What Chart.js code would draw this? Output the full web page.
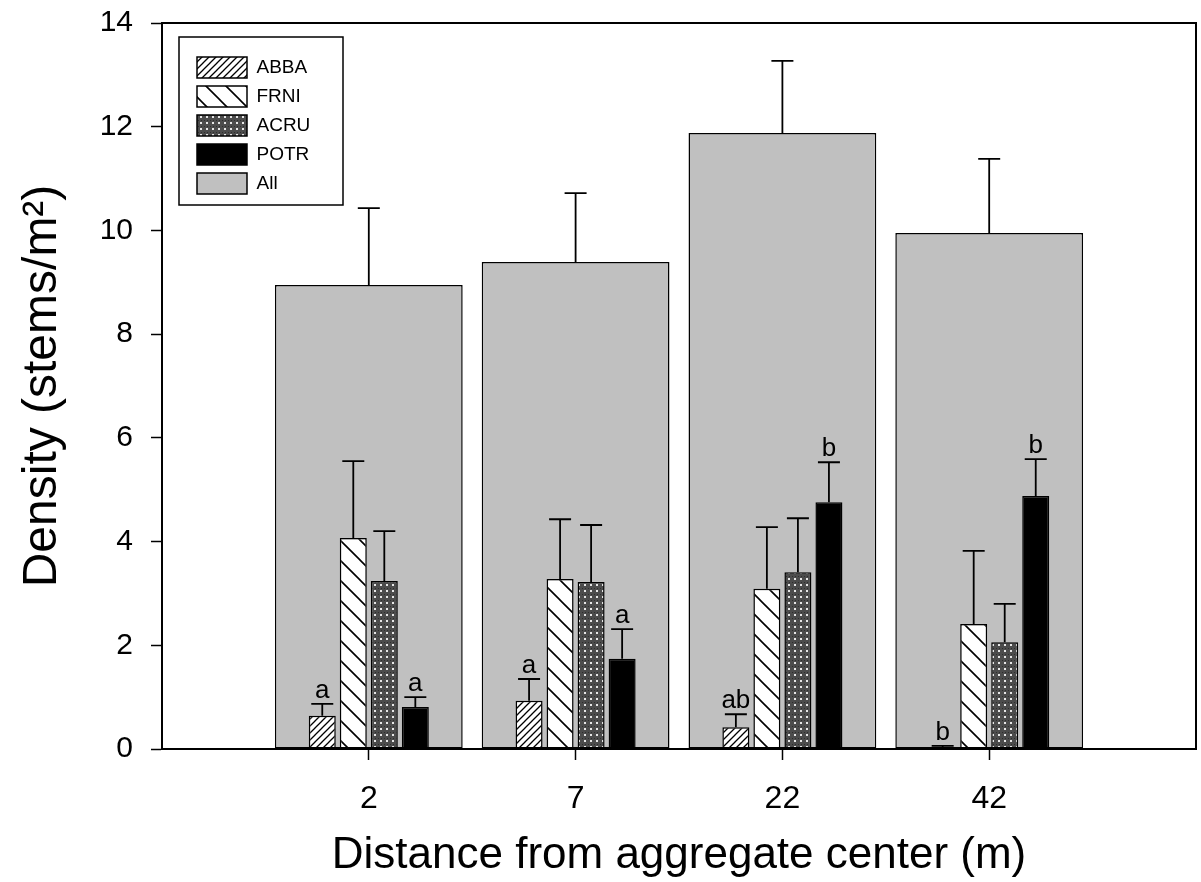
<!DOCTYPE html>
<html>
<head>
<meta charset="utf-8">
<script src="https://cdn.jsdelivr.net/npm/chart.js@4.4.1/dist/chart.umd.min.js"></script>
<style>
  html, body { margin: 0; padding: 0; background: #fff; }
  #wrap { width: 1201px; height: 882px; position: relative; }
</style>
</head>
<body>
<div id="wrap"><canvas id="chrtDensity"></canvas></div>
<script>
// distances (m) and stem densities
const distances = ['2', '7', '22', '42'];

const abba = [0.64, 0.93, 0.42, 0.04];
const abbaErr = [0.23, 0.42, 0.25, 0.02];
const frni = [4.07, 3.28, 3.09, 2.41];
const frniErr = [1.48, 1.15, 1.19, 1.41];
const acru = [3.24, 3.22, 3.41, 2.06];
const acruErr = [0.96, 1.10, 1.04, 0.74];
const potr = [0.81, 1.74, 4.76, 4.88];
const potrErr = [0.19, 0.57, 0.77, 0.71];
const allSpp = [8.95, 9.39, 11.88, 9.95];
const allErr = [1.48, 1.33, 1.39, 1.43];

const abbaLetters = ['a', 'a', 'ab', 'b'];
const potrLetters = ['a', 'a', 'b', 'b'];

const yTicks = [0, 2, 4, 6, 8, 10, 12, 14];

((d) => {
    const CHRT = d.getElementById("chrtDensity");

    // empty slot on each side so the outer categories sit one full step from the frame
    const labels = [''].concat(distances, ['']);
    const pad = arr => [null].concat(arr, [null]);

    function makePattern(size, draw) {
        const cv = d.createElement('canvas');
        cv.width = size;
        cv.height = size;
        const g = cv.getContext('2d');
        draw(g, size);
        return g.createPattern(cv, 'repeat');
    }

    const hatchFine = makePattern(7, (g, s) => {
        g.fillStyle = '#fff';
        g.fillRect(0, 0, s, s);
        g.strokeStyle = '#000';
        g.lineWidth = 1.3;
        g.beginPath();
        g.moveTo(-1, s + 1); g.lineTo(s + 1, -1);
        g.moveTo(-2, 2); g.lineTo(2, -2);
        g.moveTo(s - 2, s + 2); g.lineTo(s + 2, s - 2);
        g.stroke();
    });
    const hatchWide = makePattern(20, (g, s) => {
        g.fillStyle = '#fff';
        g.fillRect(0, 0, s, s);
        g.strokeStyle = '#000';
        g.lineWidth = 1.6;
        g.beginPath();
        g.moveTo(-1, -1); g.lineTo(s + 1, s + 1);
        g.moveTo(-3, s - 3); g.lineTo(3, s + 3);
        g.moveTo(s - 3, -3); g.lineTo(s + 3, 3);
        g.stroke();
    });
    const dots = makePattern(6, (g, s) => {
        g.fillStyle = '#4c4c4c';
        g.fillRect(0, 0, s, s);
        g.fillStyle = '#2e2e2e';
        g.fillRect(0, 0, 1, 1);
        g.fillRect(3, 0, 1, 1);
        g.fillStyle = '#e6e6e6';
        g.fillRect(2, 2, 2, 2);
    });

    const errorBars = {
        id: 'errorBars',
        afterDatasetsDraw(chart) {
            const ctx = chart.ctx, yScale = chart.scales.y;
            ctx.save();
            ctx.strokeStyle = '#000';
            ctx.lineWidth = 1.8;
            ctx.fillStyle = '#000';
            ctx.font = '26px "Liberation Sans", Arial, sans-serif';
            ctx.textAlign = 'center';
            ctx.textBaseline = 'alphabetic';
            chart.data.datasets.forEach((ds, i) => {
                const meta = chart.getDatasetMeta(i);
                if (meta.hidden) return;
                meta.data.forEach((bar, j) => {
                    const v = ds.data[j];
                    if (v == null) return;
                    const e = ds.errors[j - 1];
                    const top = yScale.getPixelForValue(v + e);
                    ctx.beginPath();
                    ctx.moveTo(bar.x, bar.y);
                    ctx.lineTo(bar.x, top);
                    ctx.moveTo(bar.x - 11, top);
                    ctx.lineTo(bar.x + 11, top);
                    ctx.stroke();
                    if (ds.letters) {
                        ctx.fillText(ds.letters[j - 1], bar.x, top - 6);
                    }
                });
            });
            ctx.restore();
        }
    };

    const frameAndLegend = {
        id: 'frameAndLegend',
        afterLayout(chart) {
            const lg = chart.legend, ca = chart.chartArea;
            const w = lg.width, h = lg.height;
            lg.left = ca.left + 27;
            lg.top = ca.top + 26;
            lg.right = lg.left + w;
            lg.bottom = lg.top + h;
        },
        afterDraw(chart) {
            const ctx = chart.ctx, ca = chart.chartArea, lg = chart.legend;
            ctx.save();
            ctx.strokeStyle = '#000';
            ctx.lineWidth = 2;
            ctx.strokeRect(ca.left, ca.top, ca.right - ca.left, ca.bottom - ca.top);
            ctx.lineWidth = 1.5;
            ctx.strokeRect(lg.left - 10, lg.top - 12, 164, 168);
            ctx.restore();
        }
    };

    const barStyle = { borderColor: '#000', borderWidth: 1.5, borderSkipped: false };
    const sppBar = Object.assign({ categoryPercentage: 0.6, barPercentage: 0.87 }, barStyle);

    new Chart(CHRT, {
        type: 'bar',
        data: {
            labels: labels,
            datasets: [
                Object.assign({ label: 'ABBA', data: pad(abba), errors: abbaErr, letters: abbaLetters, backgroundColor: hatchFine }, sppBar),
                Object.assign({ label: 'FRNI', data: pad(frni), errors: frniErr, backgroundColor: hatchWide }, sppBar),
                Object.assign({ label: 'ACRU', data: pad(acru), errors: acruErr, backgroundColor: dots }, sppBar),
                Object.assign({ label: 'POTR', data: pad(potr), errors: potrErr, letters: potrLetters, backgroundColor: '#000' }, sppBar),
                Object.assign({ label: 'All', data: pad(allSpp), errors: allErr, backgroundColor: '#c0c0c0', grouped: false, categoryPercentage: 1, barPercentage: 0.908 }, barStyle)
            ]
        },
        options: {
            responsive: true,
            maintainAspectRatio: false,
            animation: false,
            layout: { padding: { top: 23, right: 5, left: 0, bottom: 0 } },
            plugins: {
                tooltip: { enabled: false },
                legend: {
                    position: 'chartArea',
                    align: 'start',
                    labels: {
                        boxWidth: 50,
                        boxHeight: 21,
                        padding: 8,
                        color: '#000',
                        font: { family: '"Liberation Sans", Arial, sans-serif', size: 19 }
                    }
                }
            },
            scales: {
                x: {
                    type: 'category',
                    offset: false,
                    grid: {
                        offset: false,
                        drawOnChartArea: false,
                        tickLength: 11,
                        tickWidth: 1.5,
                        tickColor: c => (c.index === 0 || c.index === labels.length - 1) ? 'rgba(0,0,0,0)' : '#000'
                    },
                    border: { color: '#000', width: 2 },
                    ticks: {
                        autoSkip: false,
                        maxRotation: 0,
                        padding: 20,
                        color: '#000',
                        font: { family: '"Liberation Sans", Arial, sans-serif', size: 32 }
                    },
                    title: {
                        display: true,
                        text: 'Distance from aggregate center (m)',
                        color: '#000',
                        padding: { top: 10, bottom: 0 },
                        font: { family: '"Liberation Sans", Arial, sans-serif', size: 44, weight: 'normal' }
                    },
                    afterFit(s) {
                        s.height = 133;
                        s.paddingLeft = 0;
                        s.paddingRight = 0;
                    }
                },
                y: {
                    min: yTicks[0],
                    max: yTicks[yTicks.length - 1],
                    afterBuildTicks(s) { s.ticks = yTicks.map(v => ({ value: v })); },
                    grid: { drawOnChartArea: false, tickLength: 11, tickWidth: 1.5, tickColor: '#000' },
                    border: { color: '#000', width: 2 },
                    ticks: {
                        padding: 18,
                        color: '#000',
                        font: { family: '"Liberation Sans", Arial, sans-serif', size: 30 }
                    },
                    title: {
                        display: true,
                        text: 'Density (stems/m²)',
                        color: '#000',
                        padding: { top: 14, bottom: 0 },
                        font: { family: '"Liberation Sans", Arial, sans-serif', size: 48, weight: 'normal' }
                    },
                    afterFit(s) {
                        s.width = 162;
                        s.paddingTop = 0;
                        s.paddingBottom = 0;
                    }
                }
            }
        },
        plugins: [errorBars, frameAndLegend]
    });
})(document);
</script>
</body>
</html>
